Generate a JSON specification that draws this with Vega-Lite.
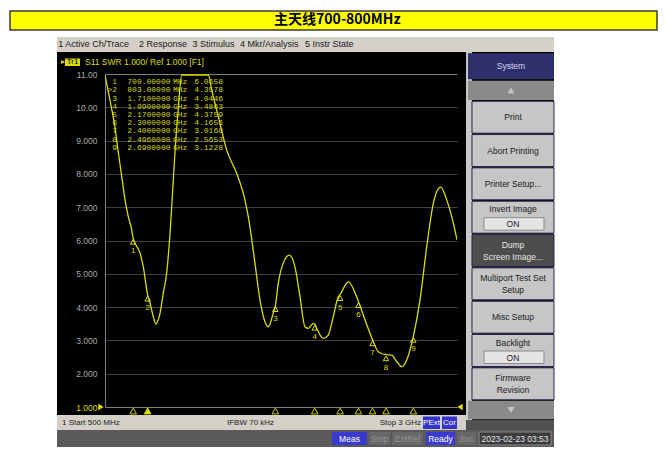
{
"$schema":"https://vega.github.io/schema/vega-lite/v6.json",
"width":352,"height":333,
"autosize":{"type":"none"},
"padding":{"left":105,"top":74,"right":210,"bottom":44},
"background":"#000000",
"config":{"view":{"stroke":null},"font":"Liberation Sans","text":{"font":"Liberation Sans"}},
"datasets":{
"trace":[{"f":500,"s":10.97},{"f":535,"s":10.22},{"f":571,"s":9.39},{"f":592,"s":8.72},{"f":619,"s":7.92},{"f":642,"s":7.22},{"f":666,"s":6.71},{"f":690,"s":6.32},{"f":700,"s":6.07},{"f":749,"s":5.62},{"f":772,"s":5.21},{"f":803,"s":4.36},{"f":820,"s":4.12},{"f":843,"s":3.71},{"f":862,"s":3.49},{"f":875,"s":3.58},{"f":891,"s":3.82},{"f":914,"s":4.42},{"f":938,"s":5.02},{"f":962,"s":6.23},{"f":980,"s":7.45},{"f":997,"s":8.65},{"f":1020,"s":9.95},{"f":1045,"s":10.97},{"f":1234,"s":10.97},{"f":1258,"s":10.52},{"f":1305,"s":9.72},{"f":1364,"s":8.72},{"f":1435,"s":8.02},{"f":1482,"s":7.42},{"f":1518,"s":6.71},{"f":1565,"s":5.32},{"f":1601,"s":4.21},{"f":1636,"s":3.56},{"f":1660,"s":3.41},{"f":1695,"s":3.82},{"f":1710,"s":4.04},{"f":1731,"s":4.72},{"f":1766,"s":5.32},{"f":1809,"s":5.56},{"f":1849,"s":5.21},{"f":1885,"s":4.31},{"f":1920,"s":3.41},{"f":1944,"s":3.36},{"f":1979,"s":3.51},{"f":1990,"s":3.49},{"f":2004,"s":3.36},{"f":2050,"s":3.06},{"f":2086,"s":3.16},{"f":2121,"s":3.71},{"f":2157,"s":4.31},{"f":2170,"s":4.38},{"f":2228,"s":4.76},{"f":2300,"s":4.17},{"f":2347,"s":3.61},{"f":2400,"s":3.02},{"f":2441,"s":2.66},{"f":2496,"s":2.57},{"f":2536,"s":2.56},{"f":2572,"s":2.36},{"f":2607,"s":2.21},{"f":2643,"s":2.41},{"f":2690,"s":3.12},{"f":2737,"s":4.21},{"f":2785,"s":5.81},{"f":2832,"s":7.12},{"f":2884,"s":7.6},{"f":2927,"s":7.22},{"f":2974,"s":6.52},{"f":3000,"s":6.02}],
"markers":[{"m":1,"f":700,"s":6.0658,"stim":"700.00000","unit":"MHz"},{"m":2,"f":803,"s":4.3578,"stim":"803.00000","unit":"MHz"},{"m":3,"f":1710,"s":4.0446,"stim":"1.7100000","unit":"GHz"},{"m":4,"f":1990,"s":3.4863,"stim":"1.9900000","unit":"GHz"},{"m":5,"f":2170,"s":4.3759,"stim":"2.1700000","unit":"GHz"},{"m":6,"f":2300,"s":4.1656,"stim":"2.3000000","unit":"GHz"},{"m":7,"f":2400,"s":3.0168,"stim":"2.4000000","unit":"GHz"},{"m":8,"f":2496,"s":2.5653,"stim":"2.4960000","unit":"GHz"},{"m":9,"f":2690,"s":3.1228,"stim":"2.6900000","unit":"GHz"}],
"keys":[{"slot":1,"label":"Print","kind":"key"},{"slot":2,"label":"Abort Printing","kind":"key"},{"slot":3,"label":"Printer Setup...","kind":"key"},{"slot":4,"label":"Invert Image","kind":"toggle","state":"ON"},{"slot":5,"label":"Dump\nScreen Image...","kind":"dark"},{"slot":6,"label":"Multiport Test Set\nSetup","kind":"key"},{"slot":7,"label":"Misc Setup","kind":"key"},{"slot":8,"label":"Backlight","kind":"toggle","state":"ON"},{"slot":9,"label":"Firmware\nRevision","kind":"key"}],
"menu":[{"item":"1 Active Ch/Trace","at":168.6},{"item":"2 Response","at":741.5},{"item":"3 Stimulus","at":1122.2},{"item":"4 Mkr/Analysis","at":1458.8},{"item":"5 Instr State","at":1920.5}]
},
"layer":[
{"data":{"name":"trace"},"mark":{"type":"line","color":"#dcdc00","strokeWidth":1.3,"interpolate":"monotone","clip":true},"encoding":{
"x":{"field":"f","type":"quantitative","scale":{"domain":[500,3000],"nice":false,"zero":false},"axis":{"title":null,"labels":false,"ticks":false,"domain":true,"domainColor":"#808080","grid":true,"gridColor":{"condition":{"test":"datum.value == 3000 || datum.value == 500","value":"#808080"},"value":"#404040"},"values":[500,750,1000,1250,1500,1750,2000,2250,2500,2750,3000]}},
"y":{"field":"s","type":"quantitative","scale":{"domain":[1,11],"nice":false,"zero":false},"axis":{"title":null,"values":[1,2,3,4,5,6,7,8,9,10,11],"ticks":false,"domain":true,"domainColor":"#808080","grid":true,"gridColor":{"condition":{"test":"datum.value == 11 || datum.value == 1","value":"#808080"},"value":"#404040"},"labelExpr":"datum.value >= 10 ? format(datum.value, '.2f') : format(datum.value, '.3f')","labelColor":{"condition":{"test":"datum.value == 1","value":"#dcdc00"},"value":"#a8a8a8"},"labelFont":"Liberation Sans","labelFontSize":8.5,"labelPadding":8}}}},
{"layer":[
{"data":{"values":[{}]},"mark":{"type":"rect","fill":"#ffffff"},"encoding":{"x":{"datum":-245.7,"axis":null},"x2":{"datum":4491.5},"y":{"datum":13.3,"axis":null,"scale":{"domain":[1,11],"nice":false,"zero":false}},"y2":{"datum":12.111}}},
{"data":{"values":[{}]},"mark":{"type":"rect","fill":"#ffffff"},"encoding":{"x":{"datum":-245.7,"axis":null},"x2":{"datum":159.1},"y":{"datum":13.3,"axis":null},"y2":{"datum":-0.4}}},
{"data":{"values":[{}]},"mark":{"type":"rect","fill":"#ffffff"},"encoding":{"x":{"datum":3688.9,"axis":null},"x2":{"datum":4491.5},"y":{"datum":13.3,"axis":null},"y2":{"datum":-0.4}}},
{"data":{"values":[{}]},"mark":{"type":"rect","fill":"#ffffff"},"encoding":{"x":{"datum":-245.7,"axis":null},"x2":{"datum":4491.5},"y":{"datum":-0.201,"axis":null},"y2":{"datum":-0.4}}},
{"data":{"values":[{}]},"mark":{"type":"rect","fill":"#ffff00","stroke":"#3a3a3a","strokeWidth":1.5},"encoding":{"x":{"datum":-174.7,"axis":null},"x2":{"datum":4420.5},"y":{"datum":12.892,"axis":null},"y2":{"datum":12.321}}},
{"data":{"values":[{}]},"mark":{"type":"text","font":"Noto Sans CJK SC","fontWeight":"bold","fontSize":14,"color":"#000000","align":"center","baseline":"middle"},"encoding":{"x":{"datum":2150,"axis":null},"y":{"datum":12.607,"axis":null},"text":{"value":"主天线700-800MHz"}}},
{"data":{"values":[{}]},"mark":{"type":"rect","fill":"#d4d0c8"},"encoding":{"x":{"datum":159.1,"axis":null},"x2":{"datum":3688.9},"y":{"datum":12.111,"axis":null},"y2":{"datum":11.661}}},
{"data":{"name":"menu"},"mark":{"type":"text","fontSize":9,"color":"#1a1a1a","align":"left","baseline":"middle"},"encoding":{"x":{"field":"at","type":"quantitative","axis":null},"y":{"datum":11.886,"axis":null},"text":{"field":"item","type":"nominal"}}},
{"data":{"values":[{}]},"mark":{"type":"text","fontSize":8,"color":"#dcdc00","align":"left","baseline":"middle"},"encoding":{"x":{"datum":187.5,"axis":null},"y":{"datum":11.351,"axis":null},"text":{"value":"▸"}}},
{"data":{"values":[{}]},"mark":{"type":"rect","fill":"#dcdc00"},"encoding":{"x":{"datum":215.9,"axis":null},"x2":{"datum":322.4},"y":{"datum":11.465,"axis":null},"y2":{"datum":11.24}}},
{"data":{"values":[{}]},"mark":{"type":"text","fontSize":8,"color":"#000000","align":"center","baseline":"middle"},"encoding":{"x":{"datum":269.2,"axis":null},"y":{"datum":11.351,"axis":null},"text":{"value":"Tr1"}}},
{"data":{"values":[{}]},"mark":{"type":"text","fontSize":8.5,"color":"#dcdc00","align":"left","baseline":"middle"},"encoding":{"x":{"datum":358,"axis":null},"y":{"datum":11.351,"axis":null},"text":{"value":"S11  SWR 1.000/ Ref 1.000  [F1]"}}},
{"data":{"values":[{}]},"mark":{"type":"point","shape":"triangle-right","filled":true,"color":"#dcdc00","size":40,"opacity":1},"encoding":{"x":{"datum":471.6,"axis":null},"y":{"datum":1,"axis":null}}},
{"data":{"values":[{}]},"mark":{"type":"point","shape":"triangle-left","filled":true,"color":"#dcdc00","size":40,"opacity":1},"encoding":{"x":{"datum":3021.3,"axis":null},"y":{"datum":1,"axis":null}}},
{"data":{"name":"markers"},"mark":{"type":"point","shape":"triangle-up","size":45,"stroke":"#d0d000","strokeWidth":1,"opacity":1},"encoding":{"x":{"field":"f","type":"quantitative","axis":null},"y":{"datum":0.88,"axis":null},"fill":{"condition":{"test":"datum.m == 2","value":"#e0e000"},"value":"transparent"}}},
{"data":{"name":"markers"},"mark":{"type":"point","shape":"triangle-up","size":30,"stroke":"#dcdc00","strokeWidth":1,"filled":false,"yOffset":3.5,"opacity":1},"encoding":{"x":{"field":"f","type":"quantitative","axis":null},"y":{"field":"s","type":"quantitative","axis":null}}},
{"data":{"name":"markers"},"mark":{"type":"text","fontSize":8,"color":"#dcdc00","baseline":"middle","align":"center","yOffset":13},"encoding":{"x":{"field":"f","type":"quantitative","axis":null},"y":{"field":"s","type":"quantitative","axis":null},"text":{"field":"m","type":"nominal"}}},
{"data":{"values":[{}]},"mark":{"type":"rect","fill":"#d4d0c8"},"encoding":{"x":{"datum":159.1,"axis":null},"x2":{"datum":3063.9},"y":{"datum":0.76,"axis":null},"y2":{"datum":0.309}}},
{"data":{"values":[{}]},"mark":{"type":"text","fontSize":8,"color":"#222222","align":"left","baseline":"middle"},"encoding":{"x":{"datum":194.6,"axis":null},"y":{"datum":0.52,"axis":null},"text":{"value":"1  Start 500 MHz"}}},
{"data":{"values":[{}]},"mark":{"type":"text","fontSize":8,"color":"#222222","align":"left","baseline":"middle"},"encoding":{"x":{"datum":1366.5,"axis":null},"y":{"datum":0.52,"axis":null},"text":{"value":"IFBW 70 kHz"}}},
{"data":{"values":[{}]},"mark":{"type":"text","fontSize":8,"color":"#222222","align":"right","baseline":"middle"},"encoding":{"x":{"datum":2744.3,"axis":null},"y":{"datum":0.52,"axis":null},"text":{"value":"Stop 3 GHz"}}},
{"data":{"values":[{}]},"mark":{"type":"rect","fill":"#3434c8"},"encoding":{"x":{"datum":2758.5,"axis":null},"x2":{"datum":2879.3},"y":{"datum":0.715,"axis":null},"y2":{"datum":0.339}}},
{"data":{"values":[{}]},"mark":{"type":"text","fontSize":8,"color":"#ffffff","align":"center","baseline":"middle"},"encoding":{"x":{"datum":2818.9,"axis":null},"y":{"datum":0.52,"axis":null},"text":{"value":"PExt"}}},
{"data":{"values":[{}]},"mark":{"type":"rect","fill":"#3434c8"},"encoding":{"x":{"datum":2893.5,"axis":null},"x2":{"datum":3000},"y":{"datum":0.715,"axis":null},"y2":{"datum":0.339}}},
{"data":{"values":[{}]},"mark":{"type":"text","fontSize":8,"color":"#ffffff","align":"center","baseline":"middle"},"encoding":{"x":{"datum":2946.7,"axis":null},"y":{"datum":0.52,"axis":null},"text":{"value":"Cor"}}},
{"data":{"values":[{}]},"mark":{"type":"rect","fill":"#5a5a5a"},"encoding":{"x":{"datum":159.1,"axis":null},"x2":{"datum":3688.9},"y":{"datum":0.309,"axis":null},"y2":{"datum":-0.201}}},
{"data":{"values":[{}]},"mark":{"type":"rect","fill":"#505050"},"encoding":{"x":{"datum":3063.9,"axis":null},"x2":{"datum":3688.9},"y":{"datum":0.61,"axis":null},"y2":{"datum":0.309}}},
{"data":{"values":[{}]},"mark":{"type":"rect","fill":"#3a3ad0"},"encoding":{"x":{"datum":2112.2,"axis":null},"x2":{"datum":2360.8},"y":{"datum":0.249,"axis":null},"y2":{"datum":-0.141}}},
{"data":{"values":[{}]},"mark":{"type":"text","fontSize":8.5,"color":"#ffffff","align":"center","baseline":"middle"},"encoding":{"x":{"datum":2236.5,"axis":null},"y":{"datum":0.054,"axis":null},"text":{"value":"Meas"}}},
{"data":{"values":[{}]},"mark":{"type":"rect","fill":"#686868"},"encoding":{"x":{"datum":2375,"axis":null},"x2":{"datum":2524.2},"y":{"datum":0.249,"axis":null},"y2":{"datum":-0.141}}},
{"data":{"values":[{}]},"mark":{"type":"text","fontSize":8.5,"color":"#959595","align":"center","baseline":"middle"},"encoding":{"x":{"datum":2449.6,"axis":null},"y":{"datum":0.054,"axis":null},"text":{"value":"Stop"}}},
{"data":{"values":[{}]},"mark":{"type":"rect","fill":"#686868"},"encoding":{"x":{"datum":2538.4,"axis":null},"x2":{"datum":2758.5},"y":{"datum":0.249,"axis":null},"y2":{"datum":-0.141}}},
{"data":{"values":[{}]},"mark":{"type":"text","fontSize":8.5,"color":"#959595","align":"center","baseline":"middle"},"encoding":{"x":{"datum":2648.5,"axis":null},"y":{"datum":0.054,"axis":null},"text":{"value":"ExtRef"}}},
{"data":{"values":[{}]},"mark":{"type":"rect","fill":"#3a3ad0"},"encoding":{"x":{"datum":2779.8,"axis":null},"x2":{"datum":2985.8},"y":{"datum":0.249,"axis":null},"y2":{"datum":-0.141}}},
{"data":{"values":[{}]},"mark":{"type":"text","fontSize":8.5,"color":"#ffffff","align":"center","baseline":"middle"},"encoding":{"x":{"datum":2882.8,"axis":null},"y":{"datum":0.054,"axis":null},"text":{"value":"Ready"}}},
{"data":{"values":[{}]},"mark":{"type":"rect","fill":"#686868"},"encoding":{"x":{"datum":3000,"axis":null},"x2":{"datum":3134.9},"y":{"datum":0.249,"axis":null},"y2":{"datum":-0.141}}},
{"data":{"values":[{}]},"mark":{"type":"text","fontSize":8.5,"color":"#959595","align":"center","baseline":"middle"},"encoding":{"x":{"datum":3067.5,"axis":null},"y":{"datum":0.054,"axis":null},"text":{"value":"Svc"}}},
{"data":{"values":[{}]},"mark":{"type":"rect","fill":"#3c3c3c","stroke":"#8a8a8a","strokeWidth":1},"encoding":{"x":{"datum":3156.3,"axis":null},"x2":{"datum":3667.6},"y":{"datum":0.249,"axis":null},"y2":{"datum":-0.141}}},
{"data":{"values":[{}]},"mark":{"type":"text","fontSize":8.5,"color":"#e8e8e8","align":"center","baseline":"middle"},"encoding":{"x":{"datum":3411.9,"axis":null},"y":{"datum":0.054,"axis":null},"text":{"value":"2023-02-23 03:53"}}},
{"data":{"values":[{}]},"mark":{"type":"rect","fill":"#c8c8c8"},"encoding":{"x":{"datum":3063.9,"axis":null},"x2":{"datum":3106.5},"y":{"datum":11.661,"axis":null},"y2":{"datum":0.61}}},
{"data":{"values":[{}]},"mark":{"type":"rect","fill":"#2f2f6d"},"encoding":{"x":{"datum":3078.1,"axis":null},"x2":{"datum":3688.9},"y":{"datum":11.622,"axis":null},"y2":{"datum":10.841}}},
{"data":{"values":[{}]},"mark":{"type":"text","fontSize":8.5,"color":"#d8d8f0","align":"center","baseline":"middle"},"encoding":{"x":{"datum":3383.5,"axis":null},"y":{"datum":11.231,"axis":null},"text":{"value":"System"}}},
{"data":{"values":[{}]},"mark":{"type":"rect","fill":"#8a8a8a"},"encoding":{"x":{"datum":3078.1,"axis":null},"x2":{"datum":3688.9},"y":{"datum":10.799,"axis":null},"y2":{"datum":10.219}}},
{"data":{"values":[{}]},"mark":{"type":"point","shape":"triangle-up","filled":true,"color":"#c4c4c4","size":50,"opacity":1},"encoding":{"x":{"datum":3383.5,"axis":null},"y":{"datum":10.508,"axis":null}}},
{"data":{"values":[{}]},"mark":{"type":"rect","fill":"#8a8a8a"},"encoding":{"x":{"datum":3078.1,"axis":null},"x2":{"datum":3688.9},"y":{"datum":1.189,"axis":null},"y2":{"datum":0.631}}},
{"data":{"values":[{}]},"mark":{"type":"point","shape":"triangle-down","filled":true,"color":"#c4c4c4","size":50,"opacity":1},"encoding":{"x":{"datum":3383.5,"axis":null},"y":{"datum":0.91,"axis":null}}}
]},
{"data":{"name":"markers"},"layer":[
{"mark":{"type":"text","font":"Liberation Mono","fontSize":8,"color":"#d4d400","align":"right","baseline":"middle"},"encoding":{"x":{"datum":585.2,"axis":null},"y":{"field":"m","type":"quantitative","scale":{"domain":[-0.015,40.72],"reverse":true,"nice":false,"zero":false},"axis":null},"text":{"field":"m","type":"nominal","condition":{"test":"datum.m == 2","value":">2"}}}},
{"mark":{"type":"text","font":"Liberation Mono","fontSize":8,"color":"#d4d400","align":"right","baseline":"middle"},"encoding":{"x":{"datum":965.2,"axis":null},"y":{"field":"m","type":"quantitative","scale":{"domain":[-0.015,40.72],"reverse":true,"nice":false,"zero":false},"axis":null},"text":{"field":"stim","type":"nominal"}}},
{"mark":{"type":"text","font":"Liberation Mono","fontSize":8,"color":"#d4d400","align":"left","baseline":"middle"},"encoding":{"x":{"datum":983,"axis":null},"y":{"field":"m","type":"quantitative","scale":{"domain":[-0.015,40.72],"reverse":true,"nice":false,"zero":false},"axis":null},"text":{"field":"unit","type":"nominal"}}},
{"mark":{"type":"text","font":"Liberation Mono","fontSize":8,"color":"#d4d400","align":"right","baseline":"middle"},"encoding":{"x":{"datum":1338.1,"axis":null},"y":{"field":"m","type":"quantitative","scale":{"domain":[-0.015,40.72],"reverse":true,"nice":false,"zero":false},"axis":null},"text":{"field":"s","type":"quantitative","format":".4f"}}}
]},
{"data":{"name":"keys"},"layer":[
{"mark":{"type":"rect","yOffset":-16,"y2Offset":16,"stroke":"#26264a","strokeWidth":1},"encoding":{"x":{"datum":3106.5,"axis":null},"x2":{"datum":3688.9},"y":{"field":"slot","type":"quantitative","scale":{"domain":[-0.296,9.695],"reverse":true,"nice":false,"zero":false},"axis":null},"y2":{"field":"slot"},"fill":{"condition":{"test":"datum.kind == 'dark'","value":"#4d4d4d"},"value":"#c6c6c6"}}},
{"transform":[{"filter":"datum.kind != 'toggle' && indexof(datum.label, '\\n') < 0"}],"mark":{"type":"text","fontSize":8.5,"align":"center","baseline":"middle"},"encoding":{"x":{"datum":3397.7,"axis":null},"y":{"field":"slot","type":"quantitative","scale":{"domain":[-0.296,9.695],"reverse":true,"nice":false,"zero":false},"axis":null},"text":{"field":"label","type":"nominal"},"color":{"condition":{"test":"datum.kind == 'dark'","value":"#e6e6e6"},"value":"#1a1a1a"}}},
{"transform":[{"filter":"indexof(datum.label, '\\n') >= 0"}],"mark":{"type":"text","fontSize":8.5,"align":"center","baseline":"middle","lineBreak":"\n","lineHeight":12,"yOffset":-6},"encoding":{"x":{"datum":3397.7,"axis":null},"y":{"field":"slot","type":"quantitative","scale":{"domain":[-0.296,9.695],"reverse":true,"nice":false,"zero":false},"axis":null},"text":{"field":"label","type":"nominal"},"color":{"condition":{"test":"datum.kind == 'dark'","value":"#e6e6e6"},"value":"#1a1a1a"}}},
{"transform":[{"filter":"datum.kind == 'toggle'"}],"mark":{"type":"text","fontSize":8.5,"align":"center","baseline":"middle","color":"#1a1a1a","yOffset":-8},"encoding":{"x":{"datum":3397.7,"axis":null},"y":{"field":"slot","type":"quantitative","scale":{"domain":[-0.296,9.695],"reverse":true,"nice":false,"zero":false},"axis":null},"text":{"field":"label","type":"nominal"}}},
{"transform":[{"filter":"datum.kind == 'toggle'"}],"mark":{"type":"rect","yOffset":0.5,"y2Offset":13,"fill":"#e4e4e4","stroke":"#8a8a8a","strokeWidth":1},"encoding":{"x":{"datum":3191.8,"axis":null},"x2":{"datum":3617.9},"y":{"field":"slot","type":"quantitative","scale":{"domain":[-0.296,9.695],"reverse":true,"nice":false,"zero":false},"axis":null},"y2":{"field":"slot"}}},
{"transform":[{"filter":"datum.kind == 'toggle'"}],"mark":{"type":"text","fontSize":8.5,"align":"center","baseline":"middle","color":"#1a1a1a","yOffset":7},"encoding":{"x":{"datum":3397.7,"axis":null},"y":{"field":"slot","type":"quantitative","scale":{"domain":[-0.296,9.695],"reverse":true,"nice":false,"zero":false},"axis":null},"text":{"field":"state","type":"nominal"}}}
]}
],
"resolve":{"scale":{"y":"independent"}}
}
